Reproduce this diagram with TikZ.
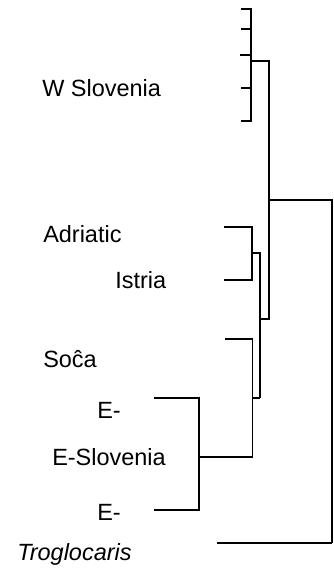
\documentclass[tikz,border=0pt]{standalone}
\usepackage{fontspec}
\setmainfont{Liberation Sans}
\begin{document}
\begin{tikzpicture}[x=0.75pt, y=-0.75pt,
  branch/.style={line width=1.1pt, line join=miter},
  lbl/.style={anchor=base west, inner sep=0pt, font=\fontsize{17.6}{20}\selectfont}]
\useasboundingbox (0,0) rectangle (333,570);

% leaf tips
\coordinate (w1) at (241,9);
\coordinate (w2) at (241,29);
\coordinate (w3) at (240,55);
\coordinate (w4) at (241,88);
\coordinate (w5) at (241,121);
\coordinate (ad) at (224,227);
\coordinate (is) at (224,280);
\coordinate (so) at (225,339);
\coordinate (e1) at (154,398);
\coordinate (e2) at (154,510);
\coordinate (tr) at (217,543);

% internal nodes
\coordinate (wn)   at (251,61);
\coordinate (up)   at (269,200);
\coordinate (mid)  at (260,319);
\coordinate (ai)   at (252,253);
\coordinate (aib)  at (260,398);
\coordinate (sj)   at (252.5,398);
\coordinate (sn)   at (252.5,457);
\coordinate (en)   at (199,457);
\coordinate (root) at (332,543);

% W Slovenia clade
\foreach \t in {w1,w2,w3,w4,w5} \draw[branch] (\t) -| (wn);
\draw[branch] (wn) -| (up);
\draw[branch] (mid) -| (up);
\draw[branch] (up) -| (root);

% Adriatic / Istria clade
\draw[branch] (ad) -| (ai);
\draw[branch] (is) -| (ai);
\draw[branch] (ai) -| (aib);
\draw[branch] (sj) -- (aib);

% Soca and E-Slovenia
\draw[branch] (so) -| (sn);
\draw[branch] (e1) -| (en);
\draw[branch] (e2) -| (en);
\draw[branch] (en) -- (sn);

% outgroup
\draw[branch] (tr) -- (root);

% labels
\node[lbl] (lw)  at (42,97)  {W Slovenia};
\node[lbl] (lad) at (43,242) {Adriatic};
\node[lbl] (lis) at (115,288) {Istria};
\node[lbl] (lso) at (43,367) {Soĉa};
\node[lbl] (le1) at (97,418) {E-};
\node[lbl] (les) at (52,465) {E-Slovenia};
\node[lbl] (le2) at (97,520) {E-};
\node[lbl] (ltr) at (17,560) {\itshape Troglocaris};
\end{tikzpicture}
\end{document}
